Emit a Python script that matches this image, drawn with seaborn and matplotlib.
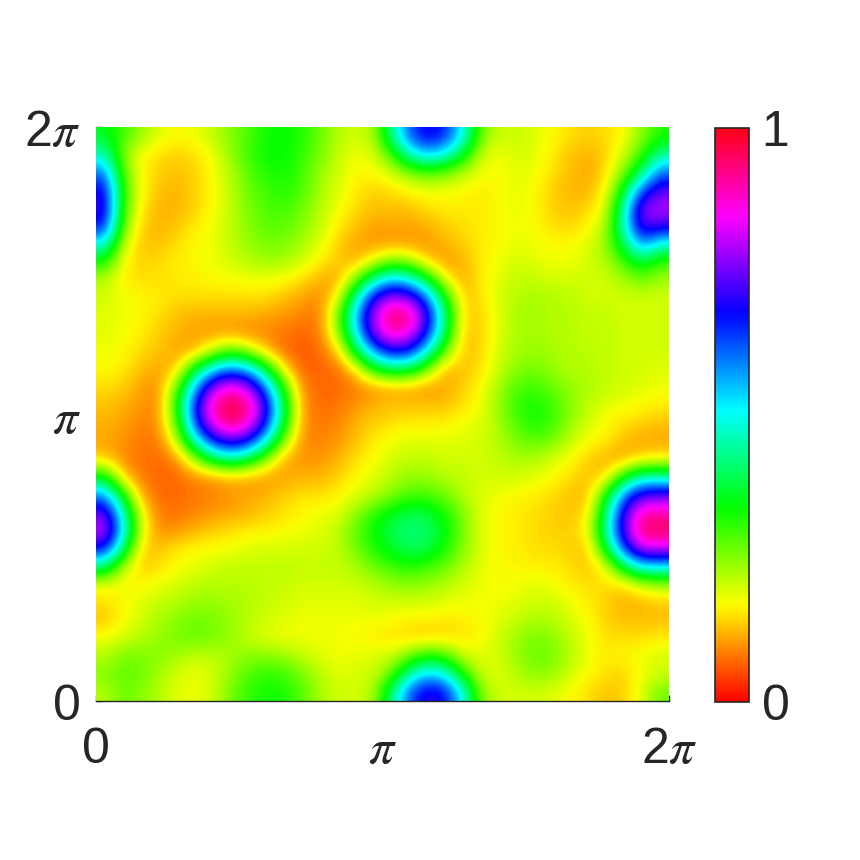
import numpy as np
import matplotlib
matplotlib.use('Agg')
import matplotlib.pyplot as plt
import matplotlib.transforms as mtrans
import seaborn as sns

# values, row by row from the top, 32 x 32 cells
r01 = [.36,.30,.24,.19,.17,.18,.21,.25,.29,.33,.34,.32,.27,.22,.20,.22,.43,.62,.70,.66,.50,.27,.20,.21,.19,.17,.15,.14,.15,.17,.25,.32]
r02 = [.46,.25,.17,.15,.14,.15,.18,.24,.30,.34,.34,.31,.26,.21,.18,.19,.30,.47,.55,.50,.37,.20,.18,.20,.19,.16,.13,.12,.14,.20,.30,.44]
r03 = [.60,.28,.17,.14,.13,.14,.17,.22,.28,.32,.33,.30,.24,.20,.17,.17,.20,.26,.29,.27,.22,.18,.17,.19,.18,.15,.13,.11,.15,.25,.41,.60]
r04 = [.70,.31,.17,.13,.12,.14,.17,.21,.27,.30,.32,.29,.23,.19,.16,.14,.15,.17,.18,.18,.17,.16,.17,.19,.17,.14,.12,.12,.17,.36,.62,.74]
r05 = [.72,.30,.16,.12,.12,.14,.17,.21,.26,.29,.30,.27,.22,.18,.15,.13,.13,.13,.15,.16,.16,.16,.17,.19,.17,.14,.13,.14,.19,.46,.78,.80]
r06 = [.68,.27,.14,.12,.13,.16,.18,.21,.25,.28,.28,.25,.21,.16,.13,.11,.11,.11,.12,.14,.15,.16,.17,.18,.17,.15,.14,.17,.22,.48,.75,.72]
r07 = [.50,.21,.13,.13,.15,.17,.18,.21,.24,.26,.26,.23,.19,.14,.11,.10,.10,.10,.10,.12,.14,.16,.17,.19,.18,.17,.17,.19,.24,.40,.60,.48]
r08 = [.33,.17,.14,.15,.16,.17,.18,.20,.22,.23,.23,.20,.16,.14,.11,.19,.26,.24,.14,.10,.12,.16,.18,.20,.19,.18,.18,.20,.22,.30,.38,.30]
r09 = [.22,.16,.15,.15,.16,.16,.17,.17,.18,.18,.17,.15,.12,.10,.26,.44,.55,.50,.37,.18,.11,.16,.19,.21,.21,.20,.20,.20,.20,.23,.27,.23]
r10 = [.20,.18,.17,.16,.15,.15,.15,.15,.15,.15,.13,.11,.09,.17,.44,.70,.80,.77,.60,.34,.13,.15,.20,.22,.23,.22,.22,.20,.20,.20,.20,.20]
r11 = [.19,.18,.17,.15,.13,.12,.12,.12,.12,.11,.10,.09,.08,.25,.55,.80,.96,.93,.72,.42,.14,.14,.19,.23,.23,.22,.22,.21,.21,.20,.20,.20]
r12 = [.19,.18,.16,.14,.12,.11,.10,.10,.09,.09,.08,.07,.08,.23,.50,.77,.90,.86,.67,.39,.13,.14,.19,.23,.23,.22,.22,.21,.21,.20,.20,.20]
r13 = [.18,.17,.15,.13,.11,.11,.21,.29,.23,.13,.07,.06,.07,.13,.37,.58,.69,.67,.50,.27,.13,.14,.20,.23,.24,.23,.22,.22,.21,.20,.20,.20]
r14 = [.17,.16,.13,.11,.13,.36,.52,.60,.55,.38,.16,.06,.07,.07,.15,.33,.40,.39,.26,.12,.13,.15,.21,.25,.26,.24,.22,.22,.21,.20,.20,.19]
r15 = [.15,.14,.11,.09,.26,.55,.78,.88,.80,.60,.31,.09,.07,.07,.08,.10,.11,.11,.10,.11,.14,.17,.23,.29,.30,.27,.24,.23,.21,.20,.19,.18]
r16 = [.13,.12,.10,.09,.32,.66,.90,.99,.93,.71,.39,.10,.07,.08,.10,.12,.13,.13,.13,.13,.15,.18,.24,.31,.33,.30,.25,.21,.19,.18,.17,.16]
r17 = [.12,.11,.09,.09,.28,.63,.85,.96,.88,.68,.36,.10,.08,.09,.12,.14,.15,.16,.16,.16,.18,.19,.23,.29,.33,.30,.24,.20,.17,.15,.14,.13]
r18 = [.11,.10,.08,.08,.20,.47,.66,.74,.69,.50,.25,.09,.09,.10,.13,.16,.18,.19,.19,.19,.19,.20,.22,.26,.28,.26,.21,.17,.16,.13,.11,.11]
r19 = [.14,.09,.08,.07,.09,.23,.38,.45,.39,.25,.11,.10,.10,.12,.15,.17,.20,.21,.21,.20,.20,.20,.21,.23,.22,.20,.17,.14,.12,.10,.15,.16]
r20 = [.35,.14,.08,.07,.07,.09,.10,.12,.11,.10,.11,.12,.12,.14,.17,.19,.22,.24,.24,.22,.21,.20,.20,.20,.19,.17,.15,.13,.14,.34,.45,.45]
r21 = [.58,.34,.11,.07,.07,.08,.09,.10,.11,.12,.14,.15,.15,.16,.19,.21,.25,.29,.29,.26,.22,.19,.18,.17,.16,.15,.13,.12,.33,.60,.73,.74]
r22 = [.75,.48,.18,.08,.08,.09,.10,.11,.12,.14,.15,.17,.18,.19,.24,.31,.36,.39,.38,.33,.25,.19,.17,.16,.15,.14,.13,.15,.42,.72,.90,.90]
r23 = [.82,.52,.20,.09,.10,.12,.14,.15,.16,.16,.17,.18,.19,.21,.28,.34,.39,.42,.41,.35,.26,.19,.17,.16,.15,.14,.14,.17,.45,.74,.96,.96]
r24 = [.68,.42,.14,.13,.16,.17,.17,.18,.19,.20,.20,.20,.20,.21,.26,.32,.37,.40,.39,.33,.25,.19,.17,.16,.15,.15,.14,.13,.37,.65,.82,.82]
r25 = [.42,.22,.13,.15,.17,.19,.20,.21,.21,.21,.21,.21,.21,.21,.23,.27,.30,.32,.30,.27,.22,.19,.17,.17,.16,.16,.15,.13,.18,.39,.52,.52]
r26 = [.18,.17,.17,.18,.20,.21,.22,.22,.22,.21,.21,.20,.20,.20,.20,.22,.24,.25,.24,.22,.20,.18,.17,.18,.19,.18,.16,.15,.15,.14,.21,.23]
r27 = [.15,.17,.19,.21,.22,.24,.24,.23,.22,.21,.20,.19,.19,.19,.19,.20,.20,.20,.20,.19,.18,.18,.18,.19,.20,.20,.18,.16,.14,.12,.12,.13]
r28 = [.13,.17,.20,.23,.25,.27,.26,.24,.22,.20,.19,.18,.18,.18,.18,.18,.17,.16,.16,.15,.16,.17,.19,.21,.23,.22,.20,.17,.14,.13,.13,.13]
r29 = [.18,.20,.22,.24,.26,.27,.26,.24,.21,.19,.18,.18,.18,.18,.17,.16,.15,.14,.14,.15,.15,.17,.20,.24,.26,.25,.21,.18,.15,.15,.15,.16]
r30 = [.22,.26,.26,.25,.23,.21,.21,.23,.25,.25,.24,.21,.19,.18,.18,.20,.20,.27,.33,.30,.20,.19,.20,.24,.27,.26,.22,.18,.16,.17,.18,.20]
r31 = [.25,.28,.27,.23,.20,.18,.20,.24,.29,.31,.30,.26,.22,.19,.20,.20,.27,.45,.54,.50,.32,.20,.19,.22,.25,.24,.20,.17,.15,.14,.18,.20]
r32 = [.22,.27,.25,.22,.19,.18,.20,.26,.31,.33,.33,.28,.23,.20,.20,.22,.42,.62,.72,.68,.50,.25,.20,.20,.20,.19,.17,.15,.13,.14,.19,.27]

rows = [r01, r02, r03, r04, r05, r06, r07, r08, r09, r10, r11, r12, r13, r14, r15, r16,
        r17, r18, r19, r20, r21, r22, r23, r24, r25, r26, r27, r28, r29, r30, r31, r32]
x_labels = ['0', r'$\pi$', r'2$\pi$']
y_labels = ['2' + r'$\pi$', r'$\pi$', '0']
cbar_labels = ['0', '1']

field = np.array(rows)
n = field.shape[0]
ink = '#262626'

sns.set_theme(style='white')
plt.rcParams['font.family'] = ['Liberation Sans', 'DejaVu Sans']
plt.rcParams['mathtext.fontset'] = 'stix'

fig = plt.figure(figsize=(8.6, 8.6), dpi=100)
ax = fig.add_axes([96 / 860, 159 / 860, 573 / 860, 574 / 860])
cax = fig.add_axes([715 / 860, 158 / 860, 34 / 860, 574 / 860])

sns.heatmap(field, ax=ax, cbar_ax=cax, cmap='hsv', vmin=0, vmax=1,
            xticklabels=False, yticklabels=False)

# smooth the cells, the original is a fine grid
ax.collections[0].set_visible(False)
ax.imshow(field, cmap='hsv', vmin=0, vmax=1, interpolation='bicubic',
          interpolation_stage='data', extent=(0, n, n, 0), aspect='auto', zorder=2)
ax.set_xlim(0, n)
ax.set_ylim(n, 0)

ax.set_axisbelow(True)
ax.set_xticks([0, n / 2, n], x_labels)
ax.set_yticks([0, n / 2, n], y_labels)
ax.tick_params(axis='both', direction='in', length=4, width=1, color=ink,
               labelsize=36, labelcolor=ink, bottom=True, left=True)
ax.tick_params(axis='x', pad=44.5)
ax.tick_params(axis='y', pad=11)
for tick in ax.get_xticklines() + ax.get_yticklines():
    tick.set_clip_on(False)
for side in ['top', 'left', 'right']:
    ax.spines[side].set_visible(False)
ax.spines['bottom'].set_visible(True)
ax.spines['bottom'].set_color(ink)
ax.spines['bottom'].set_linewidth(1)

# labels sit on a shared baseline, so the pi glyphs line up with the digits
for label in ax.get_xticklabels():
    label.set_verticalalignment('baseline')
down = mtrans.ScaledTranslation(0, -19 / 100, fig.dpi_scale_trans)
for label in ax.get_yticklabels():
    label.set_verticalalignment('baseline')
    label.set_transform(label.get_transform() + down)

cbar = ax.collections[0].colorbar
cbar.set_ticks([0, 1], labels=cbar_labels)
cbar.ax.tick_params(length=0, labelsize=36, labelcolor=ink, pad=9)
cbar.outline.set_visible(True)
cbar.outline.set_edgecolor(ink)
cbar.outline.set_linewidth(1.2)

fig.savefig('out.png', dpi=100, facecolor='white')
